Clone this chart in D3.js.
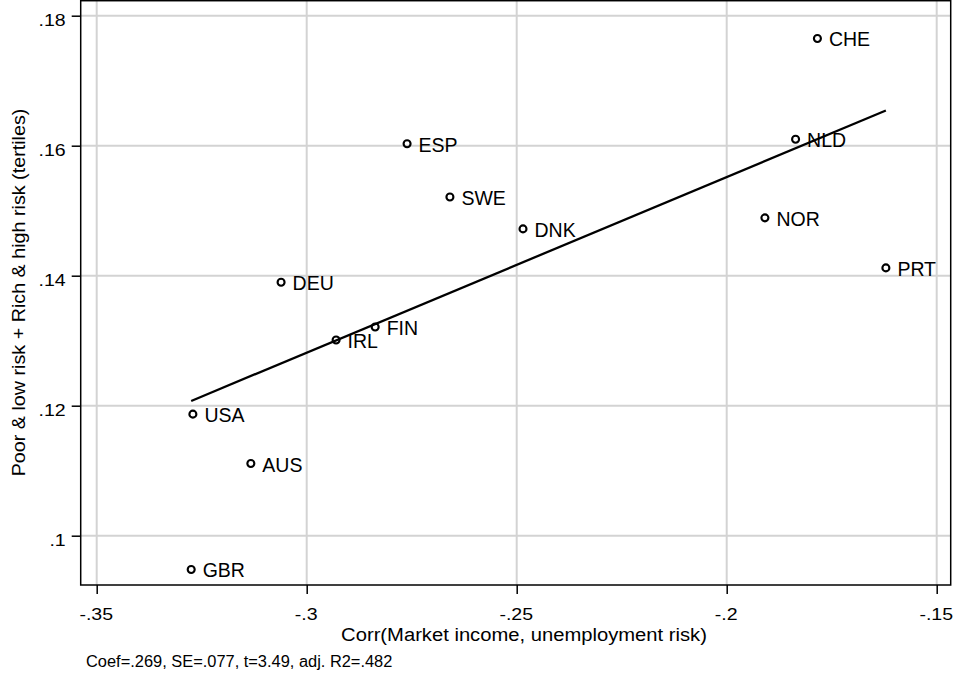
<!DOCTYPE html>
<html>
<head>
<meta charset="utf-8">
<script src="https://cdn.jsdelivr.net/npm/d3@7"></script>
<style>
html,body{margin:0;padding:0;background:#fff;}
svg{display:block;font-family:"Liberation Sans",Arial,Helvetica,sans-serif;}
</style>
</head>
<body>
<svg id="chart" width="953" height="676"></svg>
<script>
const countries = ["CHE","NLD","ESP","SWE","DNK","NOR","PRT","DEU","FIN","IRL","USA","AUS","GBR"];
const corrValues = [-0.1784,-0.1836,-0.2761,-0.2659,-0.2485,-0.1909,-0.1621,-0.3061,-0.2837,-0.2930,-0.3271,-0.3133,-0.3275];
const shareValues = [0.1765,0.1610,0.1603,0.1521,0.1472,0.1489,0.1412,0.1390,0.1321,0.1301,0.1187,0.1111,0.0948];
const xTicks = [-0.35,-0.3,-0.25,-0.2,-0.15];
const xTickLabels = ["-.35","-.3","-.25","-.2","-.15"];
const yTicks = [0.10,0.12,0.14,0.16,0.18];
const yTickLabels = [".1",".12",".14",".16",".18"];
const xTitle = "Corr(Market income, unemployment risk)";
const yTitle = "Poor & low risk + Rich & high risk (tertiles)";
const note = "Coef=.269, SE=.077, t=3.49, adj. R2=.482";

const svg = d3.select("#chart");
const L = 80.7, R = 950.7, T = 0.7, B = 585;
const x = d3.scaleLinear().domain([-0.35,-0.15]).range([96.7,936.7]);
const y = d3.scaleLinear().domain([0.10,0.18]).range([535.7,15.7]);
const FF = "Liberation Sans, Arial, sans-serif";

function stretch(sel, k){
  sel.each(function(){
    const len = this.getComputedTextLength();
    d3.select(this).attr("textLength", len*k).attr("lengthAdjust","spacingAndGlyphs");
  });
}

// gridlines
svg.append("g").selectAll("line").data(xTicks).join("line")
  .attr("x1",d=>x(d)).attr("x2",d=>x(d)).attr("y1",T).attr("y2",B)
  .attr("stroke","#d3d3d3").attr("stroke-width",2);
svg.append("g").selectAll("line").data(yTicks).join("line")
  .attr("x1",L).attr("x2",R).attr("y1",d=>y(d)).attr("y2",d=>y(d))
  .attr("stroke","#d3d3d3").attr("stroke-width",2);

// frame
svg.append("rect").attr("x",L).attr("y",T).attr("width",R-L).attr("height",B-T)
  .attr("fill","none").attr("stroke","#000").attr("stroke-width",1.5);

// axes
const xAxis = d3.axisBottom(x).tickValues(xTicks).tickSize(9).tickPadding(8)
  .tickFormat((d,i)=>xTickLabels[i]);
const gx = svg.append("g").attr("transform",`translate(0,${B})`).call(xAxis);
gx.select(".domain").remove();
gx.selectAll("line").attr("stroke","#000").attr("stroke-width",1.5);
gx.selectAll("text").attr("font-size",17.3).attr("font-family",FF).attr("fill","#000")
  .attr("y",34.5).attr("dy",0).attr("dx",-1);
stretch(gx.selectAll("text"),1.13);

const yAxis = d3.axisLeft(y).tickValues(yTicks).tickSize(9).tickPadding(6)
  .tickFormat((d,i)=>yTickLabels[i]);
const gy = svg.append("g").attr("transform",`translate(${L},0)`).call(yAxis);
gy.select(".domain").remove();
gy.selectAll("line").attr("stroke","#000").attr("stroke-width",1.5);
gy.selectAll("text").attr("font-size",17.3).attr("font-family",FF).attr("fill","#000")
  .attr("dy","0.56em");
stretch(gy.selectAll("text"),1.13);

// fit line (OLS)
const n = corrValues.length;
const mx = d3.mean(corrValues), my = d3.mean(shareValues);
let sxy=0, sxx=0;
for(let i=0;i<n;i++){sxy+=(corrValues[i]-mx)*(shareValues[i]-my);sxx+=(corrValues[i]-mx)**2;}
const b = sxy/sxx, a = my - b*mx;
const [xmin,xmax] = d3.extent(corrValues);
svg.append("line")
  .attr("x1",x(xmin)).attr("y1",y(a+b*xmin))
  .attr("x2",x(xmax)).attr("y2",y(a+b*xmax))
  .attr("stroke","#000").attr("stroke-width",2.3);

// points
const data = countries.map((c,i)=>({c, x:corrValues[i], y:shareValues[i]}));
svg.append("g").selectAll("circle").data(data).join("circle")
  .attr("cx",d=>x(d.x)).attr("cy",d=>y(d.y)).attr("r",3.5)
  .attr("fill","none").attr("stroke","#000").attr("stroke-width",2.1);
svg.append("g").selectAll("text").data(data).join("text")
  .attr("x",d=>x(d.x)+11.5).attr("y",d=>y(d.y)).attr("dy","0.41em")
  .attr("font-size",19.5).attr("fill","#000").text(d=>d.c);

// titles
const xt = svg.append("text").attr("x",524).attr("y",640.7).attr("text-anchor","middle")
  .attr("font-size",18.8).text(xTitle);
stretch(xt,1.075);
const yt = svg.append("text").attr("transform",`translate(24.5,292.5) rotate(-90)`)
  .attr("text-anchor","middle").attr("font-size",18.8).text(yTitle);
stretch(yt,1.05);
const nt = svg.append("text").attr("x",86).attr("y",667).attr("font-size",16).text(note);
stretch(nt,1.025);
</script>
</body>
</html>
